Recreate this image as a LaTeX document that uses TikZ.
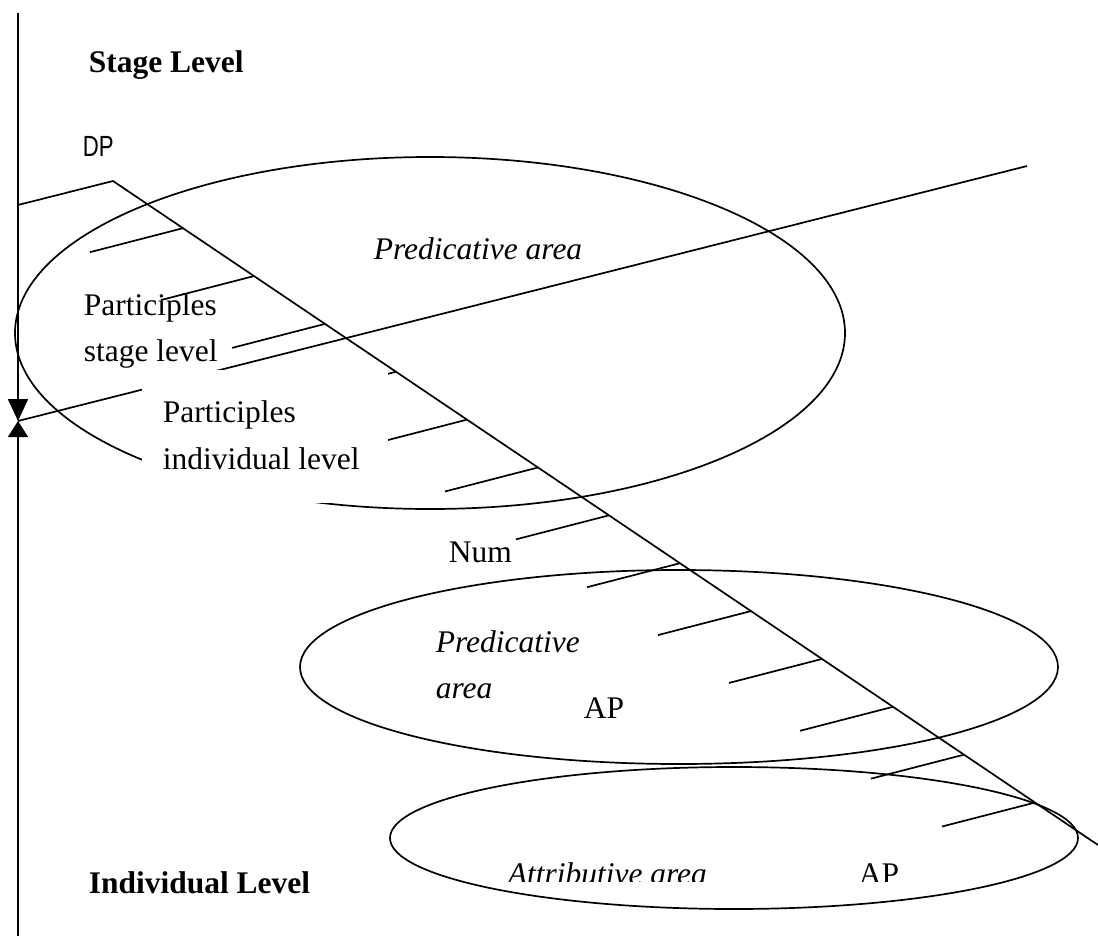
\documentclass[tikz,border=0pt]{standalone}
\usepackage{fontspec}
\setmainfont{Liberation Serif}
\newfontfamily\arialfont{Liberation Sans}
\usetikzlibrary{arrows.meta,calc,shapes.geometric}
\begin{document}
\begin{tikzpicture}[x=1bp,y=-1bp,line width=1.7bp,
  txt/.style={anchor=base west,inner sep=0pt,font=\fontsize{31.6}{46}\selectfont},
  ittxt/.style={txt,font=\fontsize{31.6}{46}\selectfont\itshape},
  bftxt/.style={txt,font=\fontsize{31.6}{46}\selectfont\bfseries},
  area/.style={draw,ellipse,inner sep=0pt,outer sep=0pt}]
\useasboundingbox (0,0) rectangle (1098,936);
% areas
\node[area,minimum width=830bp,minimum height=352bp] (predtop) at (430,333) {};
\node[area,minimum width=758bp,minimum height=194bp] (predmid) at (679,667) {};
\node[area,minimum width=688bp,minimum height=142bp] (attrib) at (734,838) {};
% coordinates
\coordinate (vtop) at (18,13);
\coordinate (vbot) at (18,936);
\coordinate (meet) at (18,421);
\coordinate (lend) at (1027,166);
\coordinate (dpl) at (18,205);
\coordinate (dpk) at (113,181);
\coordinate (dpend) at (1098,845);
% vertical axis with the two heads
\draw[-{Triangle[width=20bp,length=22bp]}] (vtop) -- (meet);
\draw[-{Triangle[width=20bp,length=16bp]}] (vbot) -- (meet);
% long line
\draw (meet) -- (lend);
% DP line
\draw (dpl) -- (dpk) -- (dpend);
% ticks
\foreach \k in {0,...,12}{
  \pgfmathsetmacro\pp{(70+71*\k)/985}
  \coordinate (t\k) at ($(dpk)!\pp!(dpend)$);
  \coordinate (u\k) at ($(t\k)+(-93,24)$);
  \draw (t\k) -- (u\k);
}
% white text box
\fill[white] (142,370) rectangle (388,503);
% texts
\node[bftxt] (stage) at (88,72) {Stage Level};
\node[bftxt] (indiv) at (88,893) {Individual Level};
\node[anchor=base west,inner sep=0pt,font=\arialfont\fontsize{29.3}{30}\selectfont] (dp) at (82,156) {\scalebox{0.76}[1]{DP}};
\node[txt] (ps1) at (83,315) {Participles};
\node[txt] (ps2) at (83,361) {stage level};
\node[txt] (pi1) at (162,422) {Participles};
\node[txt] (pi2) at (162,469) {individual level};
\node[ittxt] (pa1) at (373,259) {Predicative area};
\node[txt] (num) at (448,562) {Num};
\node[ittxt] (pm1) at (435,652) {Predicative};
\node[ittxt] (pm2) at (435,698) {area};
\node[txt] (ap1) at (583,718) {AP};
\begin{scope}
  \clip (400,800) rectangle (1000,881);
  \node[ittxt] (at1) at (507,884) {Attributive area};
  \node[txt] (ap2) at (858,884) {AP};
\end{scope}
\end{tikzpicture}
\end{document}
